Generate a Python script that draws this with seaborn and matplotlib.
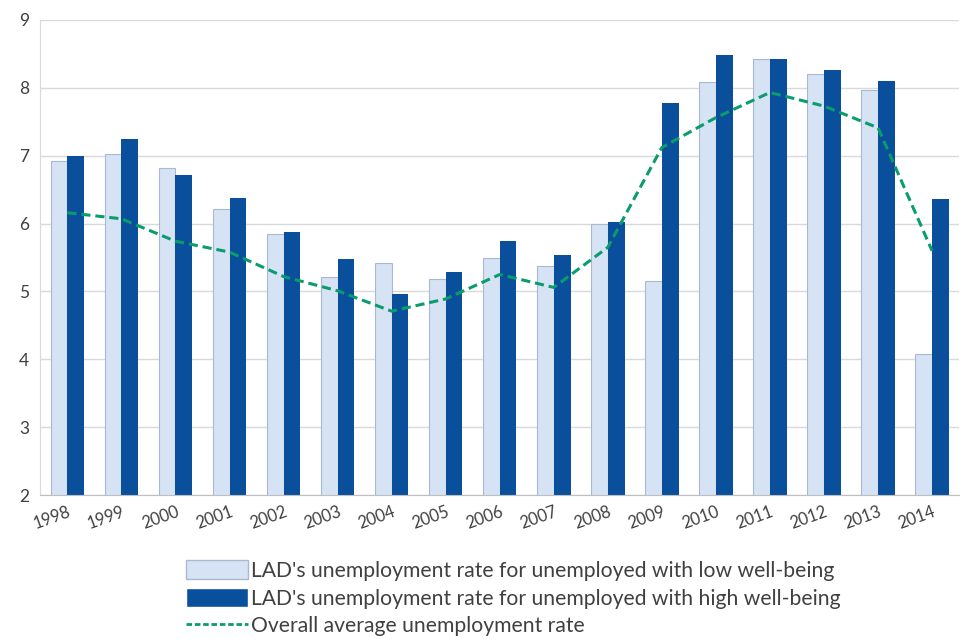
import numpy as np
import pandas as pd
import matplotlib
matplotlib.use('Agg')
import matplotlib.pyplot as plt
import seaborn as sns
from matplotlib.patches import Patch
from matplotlib.lines import Line2D

years = [str(y) for y in range(1998, 2015)]
low_wb = [6.92, 7.02, 6.82, 6.22, 5.84, 5.22, 5.42, 5.18, 5.49, 5.38, 5.99,
          5.16, 8.08, 8.43, 8.20, 7.96, 4.08]
high_wb = [6.99, 7.24, 6.71, 6.38, 5.88, 5.48, 4.97, 5.28, 5.75, 5.53, 6.02,
           7.77, 8.48, 8.42, 8.26, 8.10, 6.36]
overall = [6.16, 6.07, 5.74, 5.58, 5.22, 5.01, 4.71, 4.89, 5.25, 5.06, 5.65,
           7.12, 7.56, 7.93, 7.73, 7.41, 5.60]

lab_low = "LAD's unemployment rate for unemployed with low well-being"
lab_high = "LAD's unemployment rate for unemployed with high well-being"
lab_avg = "Overall average unemployment rate"

c_low, c_high, c_avg = '#d6e3f5', '#0a4f9c', '#0b9c6e'

sns.set_style('white')
plt.rcParams['font.family'] = ['Lato', 'DejaVu Sans']

df = pd.DataFrame({
    'year': years * 2,
    'rate': low_wb + high_wb,
    'series': [lab_low] * len(years) + [lab_high] * len(years),
})

fig = plt.figure(figsize=(9.61, 6.39), dpi=100)
ax = fig.add_axes([0.042, 0.225, 0.956, 0.744])

sns.barplot(data=df, x='year', y='rate', hue='series',
            palette=[c_low, c_high], saturation=1, width=0.62, gap=0,
            edgecolor='none', linewidth=0, ax=ax, legend=False)
# light bars get a faint outline like the original
for p in ax.patches[:len(years)]:
    p.set_edgecolor('#a9b9d2')
    p.set_linewidth(0.8)

sns.lineplot(x=np.arange(len(years)), y=overall, color=c_avg,
             linestyle=(0, (3, 1.6)), linewidth=2.2, ax=ax)

ax.set_ylim(2, 9)
ax.set_xlim(-0.5, len(years) - 0.5)
ax.set_yticks(range(2, 10))
ax.yaxis.grid(True, color='#d9d9d9', linewidth=1)
ax.set_axisbelow(True)
ax.set_xlabel('')
ax.set_ylabel('')
for s in ['top', 'right']:
    ax.spines[s].set_visible(False)
ax.spines['left'].set_color('#d9d9d9')
ax.spines['bottom'].set_color('#bfbfbf')
ax.tick_params(axis='y', labelsize=12.5, colors='#404040', length=0, pad=8)
ax.tick_params(axis='x', labelsize=12, colors='#404040', length=0, pad=6)
plt.setp(ax.get_xticklabels(), rotation=20, ha='right', rotation_mode='anchor')

handles = [Patch(facecolor=c_low, edgecolor='#a9b9d2', label=lab_low),
           Patch(facecolor=c_high, label=lab_high),
           Line2D([], [], color=c_avg, linestyle=(0, (2, 1)), linewidth=2, label=lab_avg)]
fig.legend(handles=handles, loc='upper left', bbox_to_anchor=(0.183, 0.14),
           frameon=False, fontsize=15.2, handlelength=2.9, handleheight=1.0,
           handletextpad=0.15, labelspacing=0.34, borderpad=0, labelcolor='#404040')

fig.savefig('out.png', dpi=100)
